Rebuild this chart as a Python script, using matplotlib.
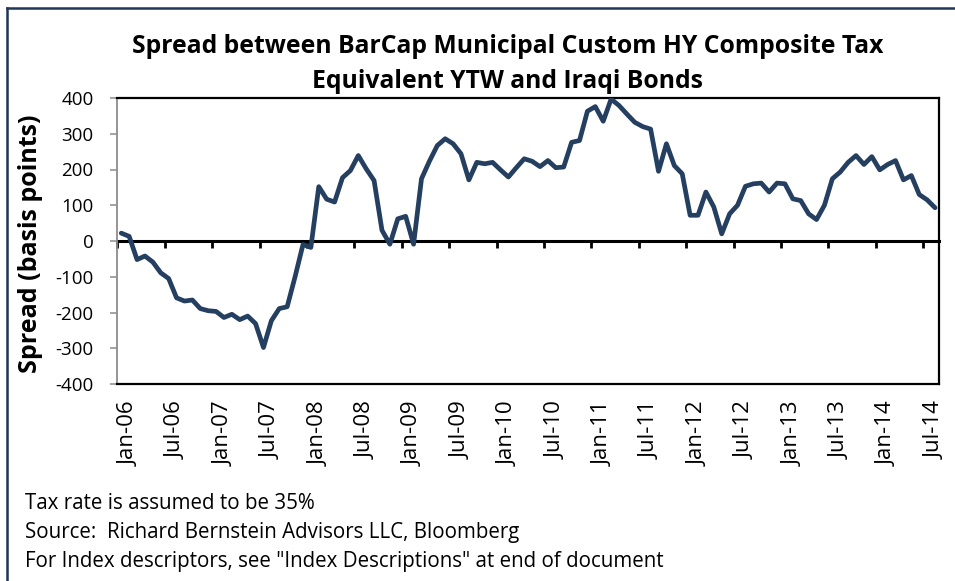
import numpy as np
import pandas as pd
import matplotlib
matplotlib.use('Agg')
import matplotlib.pyplot as plt
from matplotlib.lines import Line2D

plt.rcParams['font.family'] = ['Open Sans', 'DejaVu Sans']

# monthly spread, Jan-06 .. Aug-14 (basis points)
spread = [
    22, 13, -52, -42, -59, -89, -105, -159, -168, -165, -189, -195,
    -197, -214, -205, -220, -210, -231, -298, -223, -189, -184, -100, -10,
    -18, 152, 117, 109, 177, 197, 239, 202, 169, 30, -9, 62,
    69, -9, 174, 223, 267, 286, 272, 244, 171, 220, 216, 220,
    199, 179, 205, 230, 223, 208, 225, 205, 207, 276, 281, 363,
    376, 335, 397, 379, 355, 332, 320, 313, 195, 272, 211, 188,
    72, 72, 137, 95, 20, 76, 100, 153, 160, 162, 137, 162,
    160, 118, 113, 76, 60, 100, 174, 193, 220, 239, 214, 236,
    199, 214, 225, 171, 183, 130, 115, 93,
]
months = pd.date_range('2006-01-01', periods=len(spread), freq='MS')
month_labels = [d.strftime('%b-%y') for d in months]
yticks = [-400, -300, -200, -100, 0, 100, 200, 300, 400]

title = 'Spread between BarCap Municipal Custom HY Composite Tax\nEquivalent YTW and Iraqi Bonds'
notes = [
    'Tax rate is assumed to be 35%',
    'Source:  Richard Bernstein Advisors LLC, Bloomberg',
    'For Index descriptors, see "Index Descriptions" at end of document',
]

W, H = 955, 581
fig = plt.figure(figsize=(W / 100, H / 100), dpi=100)
ax = fig.add_axes([117.3 / W, 1 - 384 / H, (939 - 117.3) / W, (384 - 98) / H])

x = np.arange(len(spread)) + 0.5
ax.plot(x, spread, color='#243F60', lw=3.4, solid_joinstyle='round',
        solid_capstyle='round', zorder=3)

ax.set_xlim(0, len(spread))
ax.set_ylim(-400, 400)
ax.set_yticks(yticks)
ax.set_yticklabels([str(v) for v in yticks])

# month labels every 6 months at the bottom of the plot area
step = 6
ax.set_xticks(np.arange(0, len(spread), step) + 1.5)
ax.set_xticklabels(month_labels[::step], rotation=90, fontsize=16)
ax.tick_params(axis='x', length=0, pad=12.5)

ax.tick_params(axis='y', length=5, width=1.1, color='#8C8C8C',
               labelsize=13.5, pad=12)
for s in ['top', 'right', 'bottom']:
    ax.spines[s].set_linewidth(1.6)
    ax.spines[s].set_color('black')
ax.spines['left'].set_color('#8C8C8C')
ax.spines['left'].set_linewidth(1.3)

# the category axis crosses at zero
sec = ax.secondary_xaxis(0.5)
sec.set_xticks(np.arange(0, len(spread), step))
sec.tick_params(axis='x', direction='in', length=5, width=2,
                labeltop=False, labelbottom=False, color='black')
for s in sec.spines.values():
    s.set_linewidth(2.2)
    s.set_color('black')

ax.set_ylabel('Spread (basis points)', fontsize=18, fontweight='bold')
ax.yaxis.set_label_coords(-74 / (939 - 117.3), 0.49)

fig.text(508 / W, 1 - 64 / H, title, ha='center', va='center',
         fontsize=17.8, fontweight='bold', linespacing=1.5)

for i, note in enumerate(notes):
    fig.text(25 / W, 1 - (509 + 29 * i) / H, note, ha='left',
             va='baseline', fontsize=14.8)

# outer chart frame (top and left edges visible)
fig.add_artist(Line2D([6.5 / W, 1], [1 - 7.5 / H, 1 - 7.5 / H],
                      transform=fig.transFigure, color='#1F3656', lw=1.8))
fig.add_artist(Line2D([6.5 / W, 6.5 / W], [0, 1 - 7.5 / H],
                      transform=fig.transFigure, color='#1F3656', lw=1.8))

fig.savefig('out.png', dpi=100)
